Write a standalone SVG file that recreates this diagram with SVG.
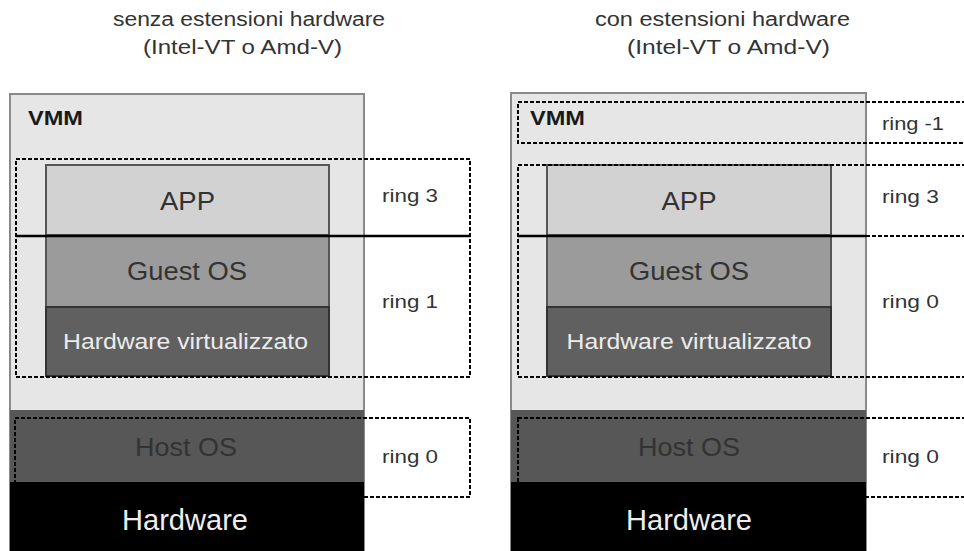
<svg xmlns="http://www.w3.org/2000/svg" width="964" height="551" viewBox="0 0 964 551">
<style>
  text { font-family: "Liberation Sans", Arial, sans-serif; }
  .title { font-size: 20px; fill: #333; text-anchor: middle; }
  .vmm { fill: #e6e6e6; stroke: #8a8a8a; stroke-width: 2; }
  .vmmlbl { font-size: 21px; font-weight: bold; fill: #1a1a1a; }
  .app { fill: #d2d2d2; stroke: #555; stroke-width: 2; }
  .guest { fill: #9b9b9b; stroke: #555; stroke-width: 2; }
  .hwv { fill: #606060; stroke: #333; stroke-width: 2; }
  .host { fill: #575757; }
  .hw { fill: #000; }
  .big { font-size: 26px; fill: #333; text-anchor: middle; }
  .hwvt { font-size: 22px; fill: #ececec; text-anchor: middle; }
  .hostt { font-size: 25px; fill: #333; text-anchor: middle; }
  .hwt { font-size: 29px; fill: #eee; text-anchor: middle; }
  .ring { font-size: 19px; fill: #333; }
  .dash { fill: none; stroke: #000; stroke-width: 2; stroke-dasharray: 4 2; }
  .sep { stroke: #000; stroke-width: 2.5; }
</style>
<rect width="964" height="551" fill="#fff"/>

<!-- titles -->
<g id="title-left">
  <text class="title" x="249" y="26" textLength="272" lengthAdjust="spacingAndGlyphs">senza estensioni hardware</text>
  <text class="title" x="242.5" y="54" textLength="199" lengthAdjust="spacingAndGlyphs">(Intel-VT o Amd-V)</text>
</g>
<g id="title-right">
  <text class="title" x="722.5" y="26" textLength="255" lengthAdjust="spacingAndGlyphs">con estensioni hardware</text>
  <text class="title" x="728.5" y="54" textLength="203" lengthAdjust="spacingAndGlyphs">(Intel-VT o Amd-V)</text>
</g>

<!-- LEFT STACK -->
<g id="left-vmm">
  <rect class="vmm" x="10" y="94" width="354" height="470"/>
  <text class="vmmlbl" x="28" y="125" textLength="55" lengthAdjust="spacingAndGlyphs">VMM</text>
</g>
<g id="left-hostos">
  <rect class="host" x="10" y="410" width="354" height="72"/>
  <text class="hostt" x="186" y="456" textLength="102" lengthAdjust="spacingAndGlyphs">Host OS</text>
</g>
<g id="left-hardware">
  <rect class="hw" x="10" y="482" width="354" height="69"/>
  <text class="hwt" x="185" y="530" textLength="126" lengthAdjust="spacingAndGlyphs">Hardware</text>
</g>
<g id="left-app">
  <rect class="app" x="46" y="165" width="283" height="70"/>
  <text class="big" x="187.5" y="210" textLength="55" lengthAdjust="spacingAndGlyphs">APP</text>
</g>
<g id="left-guestos">
  <rect class="guest" x="46" y="235" width="283" height="72"/>
  <text class="big" x="187" y="280" textLength="120" lengthAdjust="spacingAndGlyphs">Guest OS</text>
</g>
<g id="left-hwvirt">
  <rect class="hwv" x="46" y="307" width="283" height="69"/>
  <text class="hwvt" x="185.5" y="349" textLength="245" lengthAdjust="spacingAndGlyphs">Hardware virtualizzato</text>
</g>
<g id="left-rings">
  <rect class="dash" x="16" y="159" width="454" height="218"/>
  <rect class="dash" x="15" y="418" width="455" height="79"/>
  <text class="ring" x="382" y="202" textLength="56" lengthAdjust="spacingAndGlyphs">ring 3</text>
  <text class="ring" x="382" y="308" textLength="56" lengthAdjust="spacingAndGlyphs">ring 1</text>
  <text class="ring" x="382" y="463" textLength="56" lengthAdjust="spacingAndGlyphs">ring 0</text>
</g>

<!-- RIGHT STACK -->
<g id="right-vmm">
  <rect class="vmm" x="511" y="93" width="355" height="471"/>
  <text class="vmmlbl" x="530" y="125" textLength="55" lengthAdjust="spacingAndGlyphs">VMM</text>
</g>
<g id="right-hostos">
  <rect class="host" x="511" y="410" width="355" height="72"/>
  <text class="hostt" x="689" y="456" textLength="102" lengthAdjust="spacingAndGlyphs">Host OS</text>
</g>
<g id="right-hardware">
  <rect class="hw" x="511" y="482" width="355" height="69"/>
  <text class="hwt" x="689" y="530" textLength="126" lengthAdjust="spacingAndGlyphs">Hardware</text>
</g>
<g id="right-app">
  <rect class="app" x="547" y="165" width="284" height="70"/>
  <text class="big" x="689" y="210" textLength="55" lengthAdjust="spacingAndGlyphs">APP</text>
</g>
<g id="right-guestos">
  <rect class="guest" x="547" y="235" width="284" height="72"/>
  <text class="big" x="689" y="280" textLength="120" lengthAdjust="spacingAndGlyphs">Guest OS</text>
</g>
<g id="right-hwvirt">
  <rect class="hwv" x="547" y="307" width="284" height="69"/>
  <text class="hwvt" x="689" y="349" textLength="245" lengthAdjust="spacingAndGlyphs">Hardware virtualizzato</text>
</g>
<g id="right-rings">
  <rect class="dash" x="518" y="102" width="460" height="41"/>
  <rect class="dash" x="518" y="165" width="460" height="212"/>
  <rect class="dash" x="518" y="418" width="460" height="79"/>
  <text class="ring" x="882" y="130" textLength="62" lengthAdjust="spacingAndGlyphs">ring -1</text>
  <text class="ring" x="882" y="203" textLength="57" lengthAdjust="spacingAndGlyphs">ring 3</text>
  <text class="ring" x="882" y="308" textLength="57" lengthAdjust="spacingAndGlyphs">ring 0</text>
  <text class="ring" x="882" y="463" textLength="57" lengthAdjust="spacingAndGlyphs">ring 0</text>
</g>

<!-- separators -->
<g id="connectors">
  <line class="sep" x1="16" y1="236" x2="470" y2="236"/>
  <line class="sep" x1="518" y1="236" x2="866" y2="236"/>
  <line class="dash" x1="866" y1="236" x2="964" y2="236"/>
</g>
</svg>
